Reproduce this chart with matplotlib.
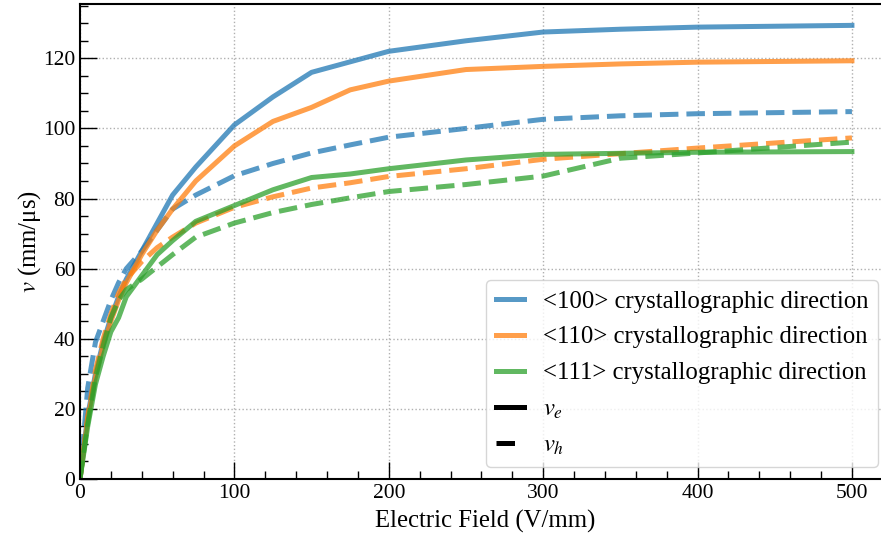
import matplotlib
matplotlib.use("Agg")
import matplotlib.pyplot as plt
from matplotlib.lines import Line2D
from matplotlib.ticker import MultipleLocator

plt.rcParams["font.family"] = ["Liberation Serif", "DejaVu Serif"]
plt.rcParams["mathtext.fontset"] = "stix"

# Drift velocity vs electric field for three crystallographic directions
field = [0, 5, 10, 15, 20, 25, 30, 40, 50, 60, 75, 100, 125, 150, 175, 200,
         250, 300, 350, 400, 500]

ve_100 = [0, 18, 30, 39, 46, 52, 57, 65, 73, 81, 89, 101, 109, 116, 119, 122,
          125, 127.5, 128.3, 128.9, 129.4]
vh_100 = [0, 26, 39, 45, 51, 56, 60, 65, 71, 77, 81, 86.5, 90, 93, 95.3, 97.5,
          100, 102.6, 103.6, 104.2, 104.8]

ve_110 = [0, 17, 29, 38, 45, 51, 56, 64, 71, 77, 85, 95, 102, 106, 111, 113.5,
          116.8, 117.7, 118.4, 118.9, 119.3]
vh_110 = [0, 18, 31, 40, 47, 53, 57, 62, 66, 69, 73, 77.5, 80.5, 83, 84.5, 86.3,
          88.5, 91.2, 92.8, 94.4, 97.3]

ve_111 = [0, 15, 27, 35, 42, 46, 52, 58, 64, 68, 73.5, 78, 82.5, 86, 87, 88.5,
          91, 92.6, 92.9, 93.2, 93.4]
vh_111 = [0, 16, 29, 38, 46, 51, 54, 57, 60.5, 64, 69, 73, 76, 78.3, 80.2, 82,
          84, 86.4, 91.5, 93, 96.1]

directions = ["<100> crystallographic direction",
              "<110> crystallographic direction",
              "<111> crystallographic direction"]
colors = ["tab:blue", "tab:orange", "tab:green"]
electron = [ve_100, ve_110, ve_111]
hole = [vh_100, vh_110, vh_111]

LW = 3.6
ALPHA = 0.75

fig = plt.figure(figsize=(8.81, 5.38), dpi=100)
# axes run slightly past the right edge of the canvas
ax = fig.add_axes([0.0908, 0.1097, 0.9200, 0.8829])

for c, ve, vh in zip(colors, electron, hole):
    ax.plot(field, ve, color=c, lw=LW, alpha=ALPHA, ls="-")
    ax.plot(field, vh, color=c, lw=LW, alpha=ALPHA, ls="--")

ax.set_xlim(0, 525)
ax.set_ylim(0, 135.5)
ax.xaxis.set_major_locator(MultipleLocator(100))
ax.xaxis.set_minor_locator(MultipleLocator(20))
ax.yaxis.set_major_locator(MultipleLocator(20))
ax.yaxis.set_minor_locator(MultipleLocator(5))
ax.tick_params(which="both", direction="in", labelsize=15.5, width=1.0)
ax.tick_params(which="major", length=12)
ax.tick_params(which="minor", length=6)
ax.grid(True, which="major", ls=":", color="#b0b0b0", lw=1.0)

for side in ["left", "bottom", "top"]:
    ax.spines[side].set_linewidth(1.5)
ax.spines["right"].set_visible(False)

ax.set_xlabel("Electric Field (V/mm)", fontsize=17.8, labelpad=5)
ax.set_ylabel("$v$ (mm/μs)", fontsize=17.8, labelpad=0)

handles = [Line2D([], [], color=c, lw=LW, alpha=ALPHA) for c in colors]
handles.append(Line2D([], [], color="black", lw=LW, ls="-"))
handles.append(Line2D([], [], color="black", lw=LW, dashes=(3.7, 3.0)))
labels = directions + ["$v_e$", "$v_h$"]
ax.legend(handles, labels, loc="lower right", fontsize=17.8, handlelength=1.15,
          handletextpad=0.75, labelspacing=0.55, borderaxespad=0.5,
          framealpha=0.8)

fig.savefig("out.png", dpi=100)
